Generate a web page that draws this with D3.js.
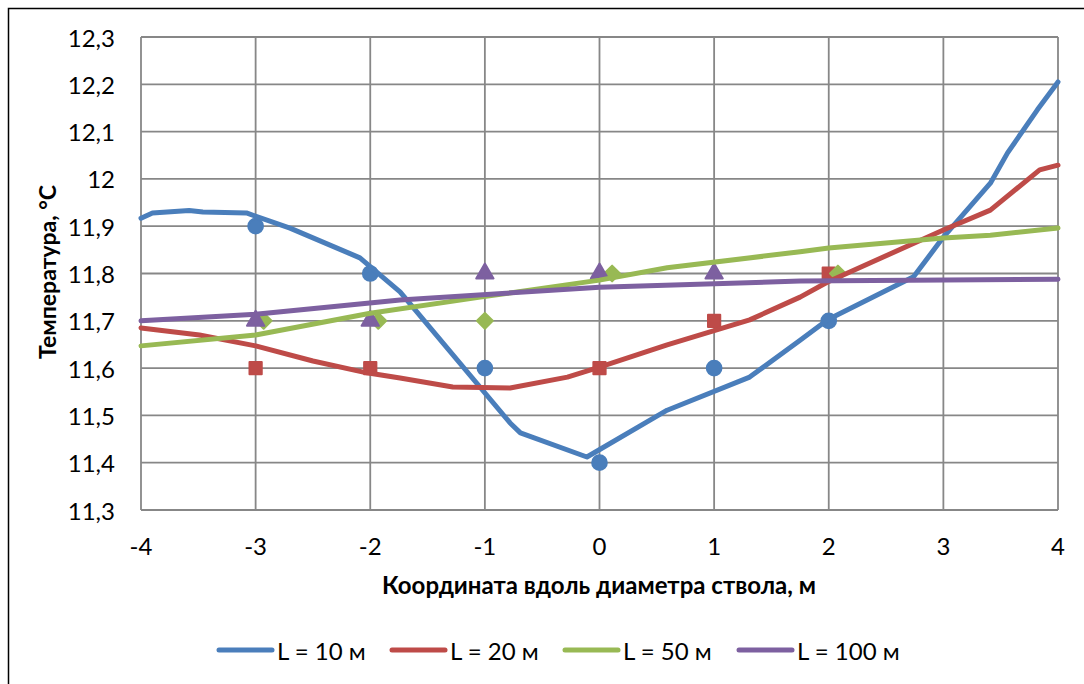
<!DOCTYPE html>
<html>
<head>
<meta charset="utf-8">
<script src="https://cdn.jsdelivr.net/npm/d3@7"></script>
<style>
  body { margin: 0; background: #fff; }
  #chart { width: 1084px; height: 684px; }
  text { font-family: Lato, "Open Sans", sans-serif; fill: #000; }
</style>
</head>
<body>
<div id="chart"></div>
<script>
// ---- data ----
var xTicks = [-4, -3, -2, -1, 0, 1, 2, 3, 4];
var yTicks = [11.3, 11.4, 11.5, 11.6, 11.7, 11.8, 11.9, 12.0, 12.1, 12.2, 12.3];
var yTickLabels = ["11,3", "11,4", "11,5", "11,6", "11,7", "11,8", "11,9", "12", "12,1", "12,2", "12,3"];
var seriesNames = ["L = 10 м", "L = 20 м", "L = 50 м", "L = 100 м"];
var seriesColors = ["#4a7ebb", "#be4b48", "#98b954", "#7d60a0"];

// calculated curves
var line10x = [-4, -3.9, -3.58, -3.46, -3.08, -2.7, -2.09, -1.74, -0.78, -0.69, -0.11, 0.59, 1.31, 1.75, 1.99, 2.74, 3.0, 3.41, 3.56, 3.82, 4];
var line10y = [11.917, 11.928, 11.933, 11.930, 11.928, 11.896, 11.833, 11.761, 11.484, 11.463, 11.412, 11.511, 11.581, 11.659, 11.702, 11.793, 11.877, 11.991, 12.055, 12.146, 12.205];
var line20x = [-4, -3.49, -3, -2.5, -2.03, -1.74, -1.28, -0.78, -0.28, 0, 0.59, 1.31, 1.75, 1.99, 3.0, 3.41, 3.84, 4];
var line20y = [11.685, 11.670, 11.647, 11.615, 11.590, 11.579, 11.560, 11.558, 11.581, 11.602, 11.649, 11.702, 11.750, 11.782, 11.892, 11.934, 12.019, 12.029];
var line50x = [-4, -3, -2, -1.04, 0, 0.59, 1.75, 2.0, 3.0, 3.41, 4];
var line50y = [11.647, 11.670, 11.716, 11.750, 11.786, 11.812, 11.846, 11.854, 11.875, 11.881, 11.896];
var line100x = [-4, -3, -1.74, 0, 1.75, 4];
var line100y = [11.700, 11.714, 11.744, 11.771, 11.784, 11.788];

// measured points
var pts10x = [-3, -2, -1, 0, 1, 2];
var pts10y = [11.9, 11.8, 11.6, 11.4, 11.6, 11.7];
var pts20x = [-3, -2, 0, 1, 2];
var pts20y = [11.6, 11.6, 11.6, 11.7, 11.8];
var pts50x = [-2.93, -1.93, -1, 0.11, 2.08];
var pts50y = [11.7, 11.7, 11.7, 11.8, 11.8];
var pts100x = [-3, -2, -1, 0, 1];
var pts100y = [11.7, 11.7, 11.8, 11.8, 11.8];

var width = 1084, height = 684;
var margin = {top: 37, left: 141, right: 26, bottom: 174};

var svg = d3.select("#chart").append("svg")
    .attr("width", width)
    .attr("height", height);

// outer frame (only top/left edges fall inside the picture)
svg.append("rect")
    .attr("x", 8.5).attr("y", 8.5)
    .attr("width", width + 20).attr("height", height + 20)
    .attr("fill", "none").attr("stroke", "#000").attr("stroke-width", 1.5);

var xScale = d3.scaleLinear().domain([-4, 4]).range([margin.left, width - margin.right]);
var yScale = d3.scaleLinear().domain([11.3, 12.3]).range([height - margin.bottom, margin.top]);

// grid
svg.append("g").selectAll("line").data(xTicks).enter().append("line")
    .attr("x1", function(d) { return xScale(d); }).attr("x2", function(d) { return xScale(d); })
    .attr("y1", yScale(11.3)).attr("y2", yScale(12.3))
    .attr("stroke", "#878787").attr("stroke-width", 1.8);
svg.append("g").selectAll("line").data(yTicks).enter().append("line")
    .attr("x1", xScale(-4)).attr("x2", xScale(4))
    .attr("y1", function(d) { return yScale(d); }).attr("y2", function(d) { return yScale(d); })
    .attr("stroke", "#878787").attr("stroke-width", 1.8);

// tick labels
svg.append("g").selectAll("text").data(yTicks).enter().append("text")
    .attr("x", margin.left - 26)
    .attr("y", function(d) { return yScale(d); })
    .attr("text-anchor", "end").attr("dominant-baseline", "central")
    .style("font-size", "24px")
    .text(function(d, i) { return yTickLabels[i]; });
svg.append("g").selectAll("text").data(xTicks).enter().append("text")
    .attr("x", function(d) { return xScale(d); })
    .attr("y", 545)
    .attr("text-anchor", "middle").attr("dominant-baseline", "central")
    .style("font-size", "24px")
    .text(function(d) { return d; });

// axis titles
svg.append("text")
    .attr("x", 599).attr("y", 584)
    .attr("text-anchor", "middle").attr("dominant-baseline", "central")
    .style("font-size", "24px").style("font-weight", "bold")
    .text("Координата вдоль диаметра ствола, м");
svg.append("text")
    .attr("transform", "translate(47,272) rotate(-90)")
    .attr("text-anchor", "middle").attr("dominant-baseline", "central")
    .style("font-size", "23px").style("font-weight", "bold")
    .text("Температура, °C");

// lines
var lineGen = d3.line()
    .x(function(d) { return xScale(d[0]); })
    .y(function(d) { return yScale(d[1]); });
var lines = [
    d3.zip(line10x, line10y), d3.zip(line20x, line20y),
    d3.zip(line50x, line50y), d3.zip(line100x, line100y)
];
var points = [
    d3.zip(pts10x, pts10y), d3.zip(pts20x, pts20y),
    d3.zip(pts50x, pts50y), d3.zip(pts100x, pts100y)
];
var symbols = [d3.symbolCircle, d3.symbolSquare, d3.symbolSquare, d3.symbolTriangle];
var symbolSizes = [170, 150, 125, 130];
var symbolRotate = [0, 0, 45, 0];

// markers first, lines on top like the original
points.forEach(function(p, i) {
    svg.append("g").selectAll("path").data(p).enter().append("path")
        .attr("transform", function(d) {
            return "translate(" + xScale(d[0]) + "," + yScale(d[1]) + ") rotate(" + symbolRotate[i] + ")";
        })
        .attr("d", d3.symbol().type(symbols[i]).size(symbolSizes[i]))
        .attr("fill", seriesColors[i])
        .attr("stroke", seriesColors[i]).attr("stroke-width", 2).attr("stroke-linejoin", "round");
});
lines.forEach(function(l, i) {
    svg.append("path").datum(l)
        .attr("d", lineGen)
        .attr("fill", "none")
        .attr("stroke", seriesColors[i])
        .attr("stroke-width", 5)
        .attr("stroke-linejoin", "round").attr("stroke-linecap", "round");
});

// legend
var legendX = [219, 392, 565, 739];
var legend = svg.append("g").selectAll("g").data(seriesNames).enter().append("g")
    .attr("transform", function(d, i) { return "translate(" + legendX[i] + ",650)"; });
legend.append("line")
    .attr("x1", 0).attr("x2", 53).attr("y1", 0).attr("y2", 0)
    .attr("stroke", function(d, i) { return seriesColors[i]; })
    .attr("stroke-width", 5).attr("stroke-linecap", "round");
legend.append("text")
    .attr("x", 58).attr("y", 0)
    .attr("dominant-baseline", "central")
    .style("font-size", "24px")
    .text(function(d) { return d; });
</script>
</body>
</html>
